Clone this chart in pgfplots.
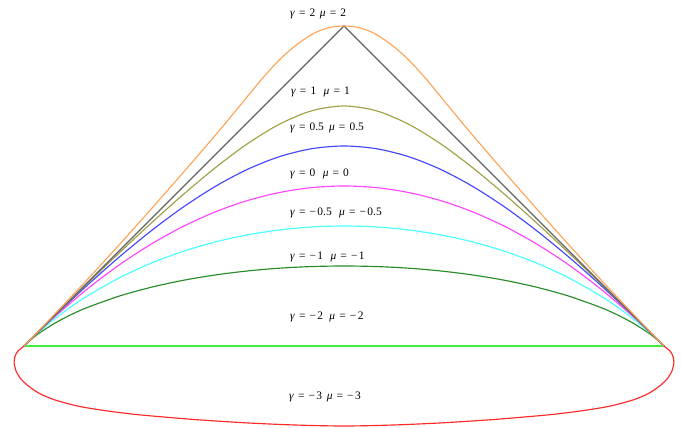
\documentclass[border=0pt]{standalone}
\usepackage{fontspec}
\setmainfont{Liberation Serif}
\usepackage{pgfplots}
\pgfplotsset{compat=1.18}

\definecolor{cOrange}{RGB}{255,165,85}
\definecolor{cGray}{RGB}{100,100,100}
\definecolor{cOlive}{RGB}{160,160,70}
\definecolor{cBlue}{RGB}{70,70,255}
\definecolor{cMagenta}{RGB}{255,70,255}
\definecolor{cCyan}{RGB}{70,255,255}
\definecolor{cDkGreen}{RGB}{40,140,40}
\definecolor{cGreen}{RGB}{60,240,60}
\definecolor{cRed}{RGB}{255,40,40}

% gamma/mu label; #3 is the gap between the two parts
\newcommand{\lab}[3]{\textit{γ}\hspace{0.36em}=\hspace{0.36em}#1\hspace{#3}\textit{μ}\hspace{0.36em}=\hspace{0.36em}#2}
\newcommand{\mn}{−\hspace{0.12em}}

\begin{document}
\begin{tikzpicture}
\begin{axis}[
  x=320bp, y=320bp,
  scale only axis,
  xmin=-1.075, xmax=1.05625,
  ymin=-0.25625, ymax=1.08125,
  axis lines=none, ticks=none,
  clip=false,
  every axis plot/.append style={line width=1.15bp},
]
% frame of the page
\addplot[draw=none] coordinates {(-1.075,-0.25625) (1.05625,1.08125)};

% gamma = -3 (closed lower loop)
\addplot[cRed, smooth] coordinates {
(-1,0) (-1.02,-0.017) (-1.029,-0.035) (-1.031,-0.05) (-1.026,-0.075)
(-1.012,-0.1) (-0.99,-0.122) (-0.954,-0.147) (-0.905,-0.168) (-0.835,-0.187)
(-0.76,-0.2) (-0.66,-0.213) (-0.55,-0.223) (-0.45,-0.231) (-0.3,-0.2405)
(-0.15,-0.247) (0,-0.25)
(0.15,-0.247) (0.3,-0.2405) (0.45,-0.231) (0.55,-0.223) (0.66,-0.213)
(0.76,-0.2) (0.835,-0.187) (0.905,-0.168) (0.954,-0.147) (0.99,-0.122)
(1.012,-0.1) (1.026,-0.075) (1.031,-0.05) (1.029,-0.035) (1.02,-0.017) (1,0)
};

% gamma = -2
\addplot[cGreen, line width=1.4bp] coordinates {(-1,0) (1,0)};

% gamma = -1
\addplot[cDkGreen, smooth] coordinates {
(-1,0) (-0.975,0.0226) (-0.95,0.0418) (-0.9,0.0734) (-0.85,0.0993) (-0.8,0.1212)
(-0.7,0.1567) (-0.6,0.1842) (-0.5,0.2057) (-0.4,0.2223) (-0.3,0.2347)
(-0.2,0.2433) (-0.1,0.2483) (0,0.25)
(0.1,0.2483) (0.2,0.2433) (0.3,0.2347) (0.4,0.2223) (0.5,0.2057)
(0.6,0.1842) (0.7,0.1567) (0.8,0.1212) (0.85,0.0993) (0.9,0.0734)
(0.95,0.0418) (0.975,0.0226) (1,0)
};

% gamma = -0.5
\addplot[cCyan, smooth] coordinates {
(-1,0) (-0.95,0.0468) (-0.9,0.0881) (-0.85,0.1249) (-0.8,0.1578) (-0.7,0.2142)
(-0.6,0.2599) (-0.5,0.2967) (-0.4,0.3257) (-0.3,0.3476) (-0.2,0.3629)
(-0.1,0.372) (0,0.375)
(0.1,0.372) (0.2,0.3629) (0.3,0.3476) (0.4,0.3257) (0.5,0.2967)
(0.6,0.2599) (0.7,0.2142) (0.8,0.1578) (0.85,0.1249) (0.9,0.0881)
(0.95,0.0468) (1,0)
};

% gamma = 0
\addplot[cMagenta, smooth] coordinates {
(-1,0) (-0.95,0.0488) (-0.9,0.095) (-0.8,0.18) (-0.7,0.255) (-0.6,0.32)
(-0.5,0.375) (-0.4,0.42) (-0.3,0.455) (-0.2,0.48) (-0.1,0.495)
(0,0.5)
(0.1,0.495) (0.2,0.48) (0.3,0.455) (0.4,0.42) (0.5,0.375)
(0.6,0.32) (0.7,0.255) (0.8,0.18) (0.9,0.095) (0.95,0.0488) (1,0)
};

% gamma = 0.5
\addplot[cBlue, smooth] coordinates {
(-1,0) (-0.95,0.0495) (-0.9,0.0981) (-0.8,0.1918) (-0.7,0.2801) (-0.6,0.3619)
(-0.5,0.4358) (-0.4,0.5) (-0.3,0.5528) (-0.2,0.5923) (-0.1,0.6167)
(0,0.625)
(0.1,0.6167) (0.2,0.5923) (0.3,0.5528) (0.4,0.5) (0.5,0.4358)
(0.6,0.3619) (0.7,0.2801) (0.8,0.1918) (0.9,0.0981) (0.95,0.0495) (1,0)
};

% gamma = 1
\addplot[cOlive, smooth] coordinates {
(-1,0) (-0.95,0.0498) (-0.9,0.0994) (-0.8,0.1973) (-0.7,0.2932) (-0.6,0.3863)
(-0.5,0.4755) (-0.4,0.5588) (-0.3,0.6332) (-0.2,0.6941) (-0.1,0.7353)
(0,0.75)
(0.1,0.7353) (0.2,0.6941) (0.3,0.6332) (0.4,0.5588) (0.5,0.4755)
(0.6,0.3863) (0.7,0.2932) (0.8,0.1973) (0.9,0.0994) (0.95,0.0498) (1,0)
};

% limiting triangle
\addplot[cGray] coordinates {(-1,0) (0,1) (1,0)};

% gamma = 2
\addplot[cOrange, smooth] coordinates {
(-1,0) (-0.9,0.104) (-0.8,0.21) (-0.7,0.319) (-0.6,0.431) (-0.5,0.545)
(-0.4,0.661) (-0.35,0.721) (-0.3,0.782) (-0.25,0.842) (-0.2,0.896)
(-0.15,0.94) (-0.1,0.974) (-0.05,0.994) (0,1)
(0.05,0.994) (0.1,0.974) (0.15,0.94) (0.2,0.896) (0.25,0.842) (0.3,0.782)
(0.35,0.721) (0.4,0.661) (0.5,0.545) (0.6,0.431) (0.7,0.319) (0.8,0.21)
(0.9,0.104) (1,0)
};

% curve labels
\begin{scope}[every node/.style={anchor=west, inner sep=0pt, text=black,
  font=\fontsize{11.5}{13}\selectfont}]
\node at (axis cs:-0.169,1.038) {\lab{2}{2}{0.4em}};
\node at (axis cs:-0.166,0.794) {\lab{1}{1}{0.65em}};
\node at (axis cs:-0.169,0.6815) {\lab{0.5}{0.5}{0.45em}};
\node at (axis cs:-0.169,0.538) {\lab{0}{0}{0.65em}};
\node at (axis cs:-0.169,0.416) {\lab{\mn 0.5}{\mn 0.5}{0.65em}};
\node at (axis cs:-0.169,0.278) {\lab{\mn 1}{\mn 1}{0.65em}};
\node at (axis cs:-0.169,0.091) {\lab{\mn 2}{\mn 2}{0.55em}};
\node at (axis cs:-0.172,-0.159) {\lab{\mn 3}{\mn 3}{0.4em}};
\end{scope}
\end{axis}
\end{tikzpicture}
\end{document}
